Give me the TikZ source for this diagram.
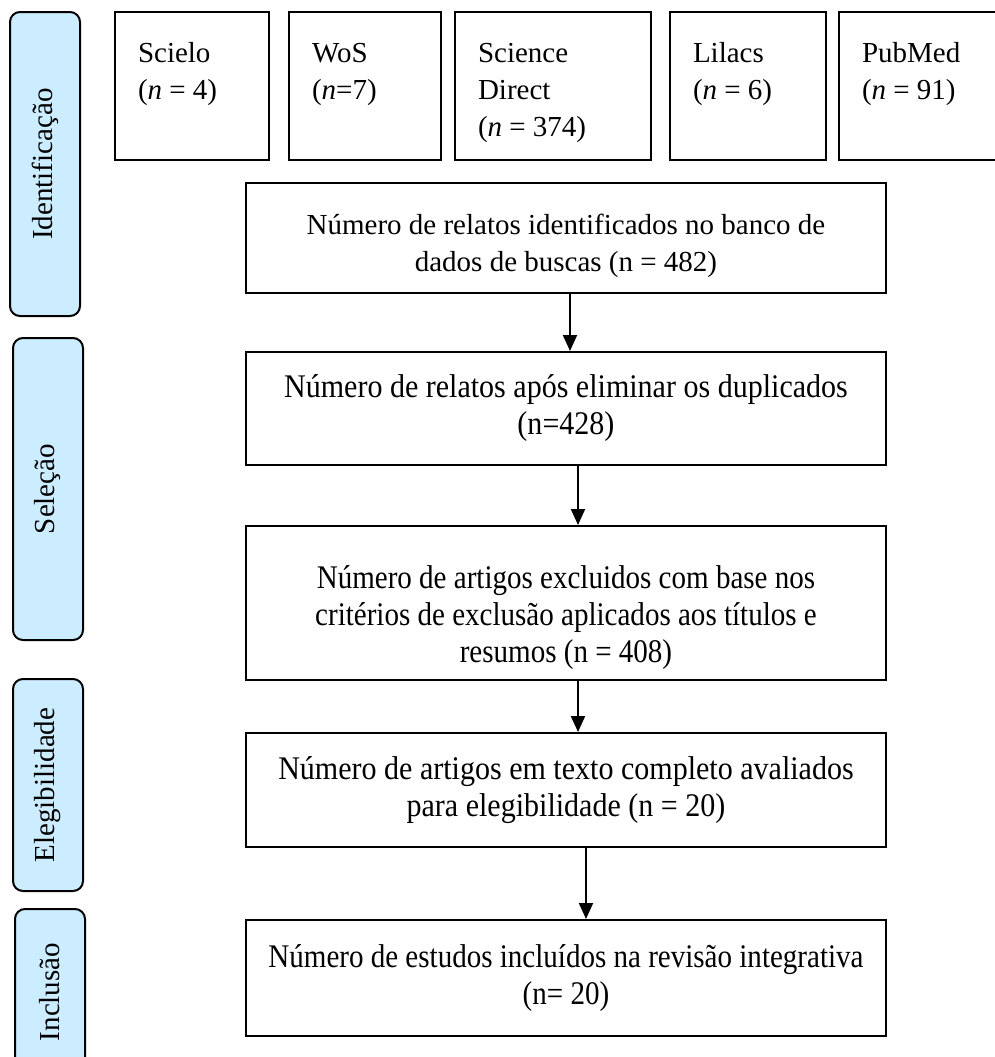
\documentclass[tikz,border=0pt]{standalone}
\usepackage{fontspec}
\setmainfont{Liberation Serif}
\newfontfamily\narrowfont[FakeStretch=0.88]{Liberation Serif}
\newfontfamily\semiwidefont[FakeStretch=0.91]{Liberation Serif}
\usepackage{xcolor}
\usetikzlibrary{arrows.meta}
\definecolor{phaseblue}{RGB}{204,236,255}
\newcommand{\srctext}[2]{\parbox[c][74pt][t]{#1}{\raggedright\rule{0pt}{25pt}#2}}

\begin{document}
\begin{tikzpicture}[node distance=90pt, auto, thick, font=\fontsize{14.5}{18.5}\selectfont]
        % Define styles
        \tikzstyle{dbbox} = [rectangle, draw, line width=1pt, inner xsep=11.5pt, inner ysep=0pt, minimum height=74pt]
        \tikzstyle{flowbox} = [rectangle, draw, line width=1pt, inner xsep=2pt, text width=316pt, align=flush center, minimum width=320pt]
        \tikzstyle{condensed} = [font=\fontsize{16.5}{18.5}\narrowfont]
        \tikzstyle{semicondensed} = [font=\fontsize{16.5}{18.5}\semiwidefont]
        \tikzstyle{phasebox} = [rectangle, draw, line width=1pt, fill=phaseblue, rounded corners=5pt, rotate=90, minimum height=35pt]
        \tikzstyle{arrow} = [-{Triangle[length=8pt,width=7pt]}, line width=1pt]

        \useasboundingbox (0pt,0pt) rectangle (497.5pt,-528.5pt);

        % Databases
        \node (scielo) [dbbox] at (96pt,-43pt) {\srctext{54pt}{Scielo\\(\textit{n} = 4)}};
        \node (wos) [dbbox, right of=scielo, xshift=-3.5pt] {\srctext{53pt}{WoS\\(\textit{n}=7)}};
        \node (sciencedirect) [dbbox, right of=wos, xshift=4pt] {\srctext{75pt}{Science\\Direct\\(\textit{n} = 374)}};
        \node (lilacs) [dbbox, right of=sciencedirect, xshift=7.5pt] {\srctext{55pt}{Lilacs\\(\textit{n} = 6)}};
        \node (pubmed) [dbbox, right of=lilacs, xshift=-2pt] {\srctext{62pt}{PubMed\\(\textit{n} = 91)}};

        % Flow boxes
        \node (box1) [flowbox, minimum height=55pt] at (283pt,-119pt) {\rule{0pt}{18pt}Número de relatos identificados no banco de\\dados de buscas (n = 482)};
        \node (box2) [flowbox, semicondensed, minimum height=56.5pt, below of=box1, yshift=4.75pt] {Número de relatos após eliminar os duplicados\\(n=428)};
        \node (box3) [flowbox, condensed, minimum height=77pt, below of=box2, yshift=-7.25pt] {\rule{0pt}{26.5pt}Número de artigos excluidos com base nos\\critérios de exclusão aplicados aos títulos e\\resumos (n = 408)};
        \node (box4) [flowbox, semicondensed, minimum height=57pt, below of=box3, yshift=-3.5pt] {Número de artigos em texto completo avaliados\\para elegibilidade (n = 20)};
        \node (box5) [flowbox, condensed, minimum height=58pt, below of=box4, yshift=-4pt] {Número de estudos incluídos na revisão integrativa\\(n= 20)};

        % Phases
        \node (ident) [phasebox, minimum width=152pt] at (22.5pt,-82pt) {Identificação};
        \node (selec) [phasebox, minimum width=151pt] at (24pt,-244.5pt) {Seleção};
        \node (eleg) [phasebox, minimum width=106pt] at (24pt,-392.5pt) {Elegibilidade};
        \node (incl) [phasebox, minimum width=83pt] at (25pt,-496pt) {Inclusão};

        % Connections
        \draw [arrow] ([xshift=2pt]box1.south) -- ([xshift=2pt]box2.north);
        \draw [arrow] ([xshift=6pt]box2.south) -- ([xshift=6pt]box3.north);
        \draw [arrow] ([xshift=6pt]box3.south) -- ([xshift=6pt]box4.north);
        \draw [arrow] ([xshift=10pt]box4.south) -- ([xshift=10pt]box5.north);

    \end{tikzpicture}
\end{document}
